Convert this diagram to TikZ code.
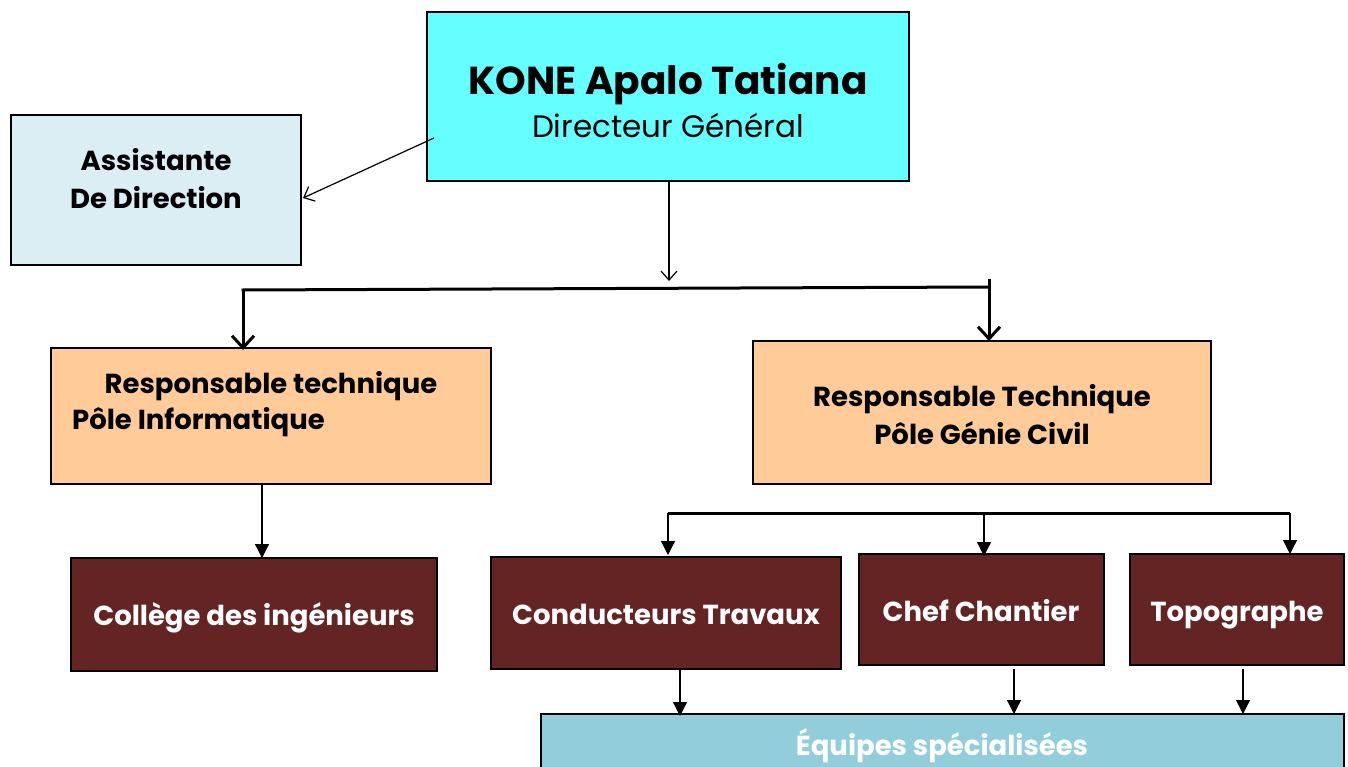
\documentclass[tikz,border=0pt]{standalone}
\usepackage{fontspec}
\setmainfont{Poppins}
\usetikzlibrary{arrows.meta}
\definecolor{cyanbox}{HTML}{66FFFF}
\definecolor{assbox}{HTML}{DAEEF3}
\definecolor{respbox}{HTML}{FFCC99}
\definecolor{maroon}{HTML}{632423}
\definecolor{equipe}{HTML}{92CDDC}
\tikzset{
  box/.style={draw=black, line width=1.2pt, inner sep=0pt},
  thin/.style={line width=1.2pt},
  thick2/.style={line width=3pt},
  barb/.style={-{Straight Barb[length=9pt,width=16pt,line width=1.2pt]}},
  barbthick/.style={-{Straight Barb[length=12pt,width=22pt,line width=3pt]}},
  tri/.style={-{Triangle[length=14pt,width=14pt]}},
  lbl/.style={font=\bfseries\fontsize{27.5}{38}\selectfont, text height=0.72em, text depth=0.18em, inner sep=0pt},
  wlbl/.style={lbl, text=white},
}
\begin{document}
\begin{tikzpicture}[x=1pt,y=-1pt]
\useasboundingbox (0,0) rectangle (1348,767);
% boxes
\draw[box, fill=cyanbox] (427,12) rectangle (909,181);
\node[font=\bfseries\fontsize{39}{44}\selectfont, text height=0.72em, text depth=0.18em, inner sep=0pt] (topname) at (668,92) {KONE Apalo Tatiana};
\node[font=\fontsize{31}{36}\selectfont, text height=0.72em, text depth=0.18em, inner sep=0pt] (toptitle) at (668,135) {Directeur Général};
\coordinate (tops) at (669,181);
\coordinate (topl) at (434,138);

\draw[box, fill=assbox] (11,115) rectangle (301,265);
\node[lbl] (ass1) at (156,168) {Assistante};
\node[lbl] (ass2) at (156,206) {De Direction};
\coordinate (assr) at (303,198);

\draw[box, fill=respbox] (51,348) rectangle (491,484);
\node[lbl] (ri1) at (271,391) {Responsable technique};
\node[lbl, anchor=west] (ri2) at (72,427) {Pôle Informatique};
\coordinate (rit) at (243,350);
\coordinate (rib) at (262,484);

\draw[box, fill=respbox] (753,341) rectangle (1211,484);
\node[lbl] (rg1) at (982,404) {Responsable Technique};
\node[lbl] (rg2) at (982,442) {Pôle Génie Civil};
\coordinate (rgt) at (989,341);

\draw[box, fill=maroon] (71,558) rectangle (437,671);
\node[wlbl] (col) at (254,623) {Collège des ingénieurs};
\coordinate (colt) at (262,558);

\draw[box, fill=maroon] (491,557) rectangle (841,669);
\node[wlbl] (cond) at (666,622) {Conducteurs Travaux};
\draw[box, fill=maroon] (859,554) rectangle (1104,665);
\node[wlbl] (chef) at (981,619) {Chef Chantier};
\draw[box, fill=maroon] (1130,554) rectangle (1344,665);
\node[wlbl] (topo) at (1237,619) {Topographe};

\draw[box, fill=equipe] (541,714) rectangle (1344,790);
\node[wlbl] (eq) at (942,753) {Équipes spécialisées};

% connectors
\draw[thin, barb] (topl) -- (assr);
\coordinate (hm) at (669,281);
\draw[thin, barb] (tops) -- (hm);

\coordinate (hl) at (243,290);
\coordinate (hr) at (989,287);
\coordinate (hr0) at (989,279);
\draw[thick2, line cap=rect] (hl) -- (hr);
\draw[thick2, barbthick] (hl) -- (rit);
\draw[thick2, barbthick] (hr0) -- (rgt);

\draw[thin, tri] (rib) -- (colt);

\coordinate (b1) at (668,513);
\coordinate (b2) at (984,513);
\coordinate (b3) at (1290,513);
\draw[line width=3pt] (b1) -- (b3);
\draw[thin, tri] (b1) -- (668,555);
\draw[thin, tri] (b2) -- (984,556);
\draw[thin, tri] (b3) -- (1290,554);

\draw[thin, tri] (680,670) -- (680,716);
\draw[thin, tri] (1014,669) -- (1014,714);
\draw[thin, tri] (1243,669) -- (1243,714);
\end{tikzpicture}
\end{document}
